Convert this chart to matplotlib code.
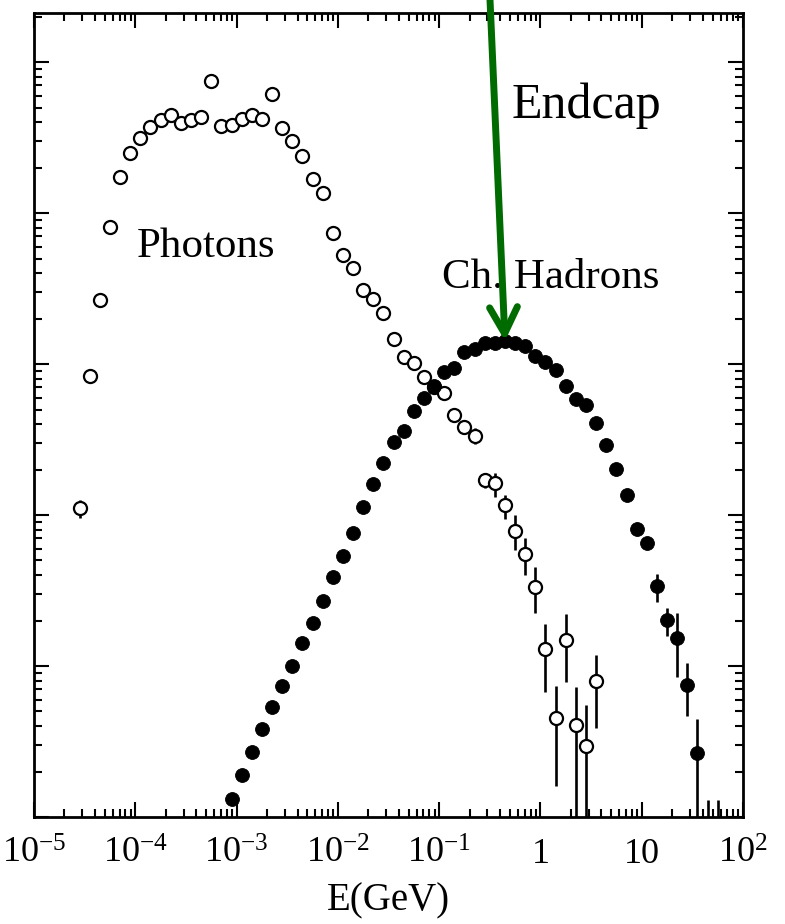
import numpy as np
import matplotlib
matplotlib.use("Agg")
import matplotlib.pyplot as plt
from matplotlib.ticker import LogLocator, NullFormatter, FixedLocator, FixedFormatter

plt.rcParams["font.family"] = ["Liberation Serif", "DejaVu Serif"]
plt.rcParams["mathtext.fontset"] = "custom"
plt.rcParams["mathtext.rm"] = "Liberation Serif"
plt.rcParams["mathtext.it"] = "Liberation Serif:italic"

# ---- data: energy spectra in the endcap (log10 of bin-centre energy in GeV) ----
photon_logE = [-4.55, -4.45, -4.35, -4.25, -4.15, -4.05, -3.95, -3.85, -3.75, -3.65,
               -3.55, -3.45, -3.35, -3.25, -3.15, -3.05, -2.95, -2.85, -2.75, -2.65,
               -2.55, -2.45, -2.35, -2.25, -2.15, -2.05, -1.95, -1.85, -1.75, -1.65,
               -1.55, -1.45, -1.35, -1.25, -1.15, -1.05, -0.95, -0.85, -0.75, -0.65,
               -0.55, -0.45, -0.35, -0.25, -0.15, -0.05, 0.05, 0.15, 0.25, 0.35,
               0.45, 0.55]
photon_counts = [111, 833, 2650, 8080, 17300, 24900, 31400, 37100, 41300, 44600,
                 39400, 41300, 43200, 74800, 37700, 38300, 42000, 44600, 42000, 61400,
                 36500, 30000, 23800, 16800, 13600, 7380, 5270, 4320, 3090, 2690,
                 2180, 1460, 1110, 1020, 820, 704, 643, 459, 383, 334,
                 171, 163, 116, 78.3, 55.2, 33.4, 13.0, 4.53, 14.9, 4.07,
                 2.95, 7.96]
photon_err_lo = [16, 40, 90, 200, 350, 450, 500, 550, 600, 620,
                 600, 600, 620, 900, 560, 570, 600, 620, 600, 800,
                 560, 500, 440, 370, 330, 240, 200, 180, 150, 140,
                 120, 95, 80, 75, 65, 60, 55, 45, 40, 40,
                 20, 31, 22, 20, 15, 11, 6.3, 2.93, 7.1, 4.0,
                 2.9, 4.1]
photon_err_hi = [15, 40, 90, 200, 350, 450, 500, 550, 600, 620,
                 600, 600, 620, 900, 560, 570, 600, 620, 600, 800,
                 560, 500, 440, 370, 330, 240, 200, 180, 150, 140,
                 120, 95, 80, 75, 65, 60, 55, 45, 42, 43,
                 19, 27, 20, 22, 15, 12, 6.0, 2.84, 7.2, 3.2,
                 2.57, 3.9]

hadron_logE = [-3.05, -2.95, -2.85, -2.75, -2.65, -2.55, -2.45, -2.35, -2.25, -2.15,
               -2.05, -1.95, -1.85, -1.75, -1.65, -1.55, -1.45, -1.35, -1.25, -1.15,
               -1.05, -0.95, -0.85, -0.75, -0.65, -0.55, -0.45, -0.35, -0.25, -0.15,
               -0.05, 0.05, 0.15, 0.25, 0.35, 0.45, 0.55, 0.65, 0.75, 0.85,
               0.95, 1.05, 1.15, 1.25, 1.35, 1.45, 1.55, 1.65, 1.75]
hadron_counts = [1.32, 1.90, 2.70, 3.83, 5.35, 7.37, 10.0, 14.2, 19.3, 26.9,
                 38.9, 53.5, 76.0, 113, 160, 221, 304, 360, 489, 596,
                 715, 885, 941, 1200, 1257, 1377, 1377, 1420, 1377, 1316,
                 1130, 1031, 912, 715, 587, 535, 407, 291, 202, 136,
                 80.8, 65.3, 33.9, 20.2, 15.3, 7.48, 2.65, 0.30, 0.30]
hadron_err_lo = [0.04, 0.05, 0.07, 0.09, 0.12, 0.15, 0.2, 0.25, 0.35, 0.45,
                 0.6, 0.8, 1.1, 1.5, 2, 2.5, 3, 3.5, 4, 4.5,
                 5, 6, 6, 7, 7, 7, 7, 7, 7, 7,
                 6.5, 6, 6, 5, 5, 4.5, 4, 3.5, 3, 3,
                 3, 3.5, 7.4, 4.4, 6.8, 2.8, 2.6, 0.29, 0.29]
hadron_err_hi = [0.04, 0.05, 0.07, 0.09, 0.12, 0.15, 0.2, 0.25, 0.35, 0.45,
                 0.6, 0.8, 1.1, 1.5, 2, 2.5, 3, 3.5, 4, 4.5,
                 5, 6, 6, 7, 7, 7, 7, 7, 7, 7,
                 6.5, 6, 6, 5, 5, 4.5, 4, 3.5, 3, 3,
                 3, 3.5, 6.8, 4.0, 7.1, 3.0, 1.8, 1.0, 1.0]

x_tick_values = [1e-5, 1e-4, 1e-3, 1e-2, 1e-1, 1, 10, 100]
x_tick_labels = [r"$\mathrm{10^{-5}}$", r"$\mathrm{10^{-4}}$", r"$\mathrm{10^{-3}}$",
                 r"$\mathrm{10^{-2}}$", r"$\mathrm{10^{-1}}$", "1", "10",
                 r"$\mathrm{10^{2}}$"]

# ---- figure ----
fig = plt.figure(figsize=(7.85, 9.24), dpi=100)
ax = fig.add_axes([0.0433, 0.1158, 0.9032, 0.870])

hE = 10.0 ** np.array(hadron_logE)
pE = 10.0 ** np.array(photon_logE)

ax.errorbar(pE, photon_counts, yerr=[photon_err_lo, photon_err_hi], fmt="o",
            ms=9.4, mfc="white", mec="black", mew=1.6, ecolor="black",
            elinewidth=1.9, capsize=0, zorder=3)
ax.errorbar(hE, hadron_counts, yerr=[hadron_err_lo, hadron_err_hi], fmt="o",
            ms=10, mfc="black", mec="black", mew=0.6, ecolor="black",
            elinewidth=1.9, capsize=0, zorder=4)

ax.set_xscale("log")
ax.set_yscale("log")
ax.set_xlim(1e-5, 1e2)
ax.set_ylim(1, 2.11e5)

ax.xaxis.set_major_locator(FixedLocator(x_tick_values))
ax.xaxis.set_major_formatter(FixedFormatter(x_tick_labels))
ax.xaxis.set_minor_locator(LogLocator(base=10, subs=np.arange(2, 10), numticks=100))
ax.xaxis.set_minor_formatter(NullFormatter())
ax.yaxis.set_major_locator(LogLocator(base=10, numticks=100))
ax.yaxis.set_minor_locator(LogLocator(base=10, subs=np.arange(2, 10), numticks=100))
ax.yaxis.set_major_formatter(NullFormatter())
ax.yaxis.set_minor_formatter(NullFormatter())

ax.tick_params(which="both", direction="in", top=True, right=True, width=1.5,
               color="black")
ax.tick_params(which="major", length=11)
ax.tick_params(which="minor", length=5.5)
ax.tick_params(axis="x", which="major", labelsize=26, pad=15)
for s in ax.spines.values():
    s.set_linewidth(2.0)

ax.set_xlabel("E(GeV)", fontsize=28, labelpad=8)

ax.text(0.674, 0.869, "Endcap", transform=ax.transAxes, fontsize=36,
        ha="left", va="baseline")
ax.text(0.145, 0.697, "Photons", transform=ax.transAxes, fontsize=31,
        ha="left", va="baseline")
ax.text(0.575, 0.658, "Ch. Hadrons", transform=ax.transAxes, fontsize=31,
        ha="left", va="baseline")

# arrow marking the peak of the charged-hadron spectrum
imax = int(np.argmax(hadron_counts))
ax.annotate("", xy=(hE[imax], hadron_counts[imax]), xycoords="data",
            xytext=(0.643, 1.02), textcoords="axes fraction",
            arrowprops=dict(arrowstyle="->,head_length=19,head_width=10",
                            mutation_scale=1, color="#006b00", lw=5,
                            shrinkA=0, shrinkB=0),
            annotation_clip=False, zorder=6)

fig.savefig("out.png", dpi=100)
